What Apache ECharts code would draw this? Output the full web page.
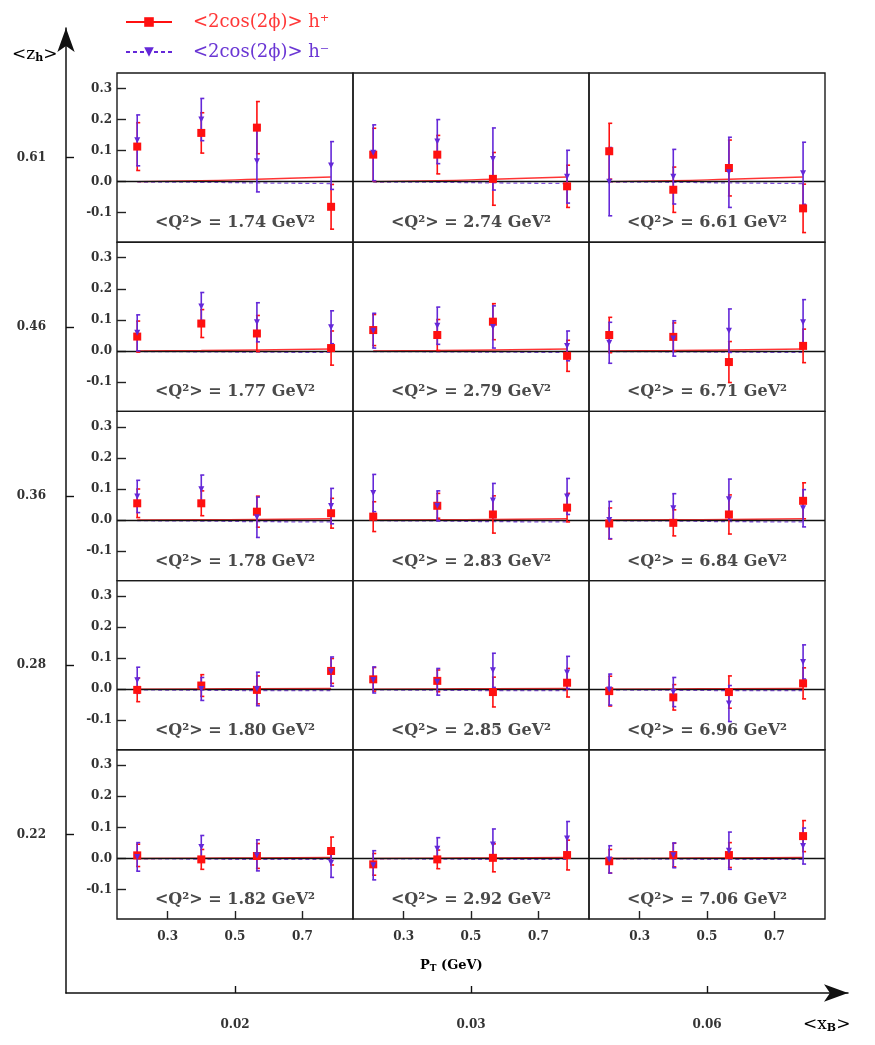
<!DOCTYPE html>
<html><head><meta charset="utf-8">
<script src="https://cdn.jsdelivr.net/npm/echarts@6/dist/echarts.min.js"></script>
<style>html,body{margin:0;padding:0;background:#fff}#c{width:875px;height:1045px}</style>
</head><body><div id="c"></div>
<script>
// ---------------- data ----------------
const ptX = [0.21, 0.40, 0.565, 0.785];          // P_T bin centres (GeV)
const ptTicks = [0.3, 0.5, 0.7];
const yTicks = [-0.1, 0.0, 0.1, 0.2, 0.3];
const zhLabels = ['0.61', '0.46', '0.36', '0.28', '0.22'];   // rows, top -> bottom
const xbLabels = ['0.02', '0.03', '0.06'];                     // columns
const q2Values = [
  ['1.74', '2.74', '6.61'],
  ['1.77', '2.79', '6.71'],
  ['1.78', '2.83', '6.84'],
  ['1.80', '2.85', '6.96'],
  ['1.82', '2.92', '7.06']
];
// panels in row-major order (r1c1, r1c2, r1c3, r2c1, ...)
const hPlusVal = [
  [0.113, 0.157, 0.174, -0.081], [0.087, 0.087, 0.009, -0.015], [0.098, -0.026, 0.044, -0.086],
  [0.046, 0.088, 0.056, 0.009], [0.067, 0.051, 0.094, -0.016], [0.051, 0.045, -0.036, 0.016],
  [0.054, 0.054, 0.027, 0.022], [0.011, 0.046, 0.018, 0.040], [-0.011, -0.009, 0.018, 0.062],
  [-0.002, 0.012, -0.002, 0.059], [0.032, 0.027, -0.009, 0.021], [-0.006, -0.026, -0.009, 0.019],
  [0.010, -0.003, 0.008, 0.024], [-0.019, -0.003, 0.002, 0.011], [-0.009, 0.011, 0.011, 0.072]
];
const hPlusErr = [
  [0.077, 0.065, 0.084, 0.072], [0.085, 0.062, 0.085, 0.068], [0.090, 0.073, 0.090, 0.078],
  [0.050, 0.045, 0.058, 0.055], [0.050, 0.050, 0.058, 0.050], [0.057, 0.045, 0.066, 0.054],
  [0.046, 0.040, 0.050, 0.048], [0.048, 0.040, 0.060, 0.046], [0.050, 0.042, 0.063, 0.058],
  [0.038, 0.035, 0.045, 0.040], [0.038, 0.035, 0.048, 0.046], [0.048, 0.041, 0.052, 0.050],
  [0.036, 0.032, 0.040, 0.045], [0.035, 0.030, 0.045, 0.048], [0.038, 0.038, 0.040, 0.050]
];
const hMinusVal = [
  [0.133, 0.200, 0.066, 0.052], [0.093, 0.129, 0.073, 0.016], [0.000, 0.016, 0.030, 0.027],
  [0.058, 0.143, 0.092, 0.076], [0.065, 0.081, 0.077, 0.016], [0.026, 0.040, 0.065, 0.092],
  [0.076, 0.099, 0.009, 0.045], [0.087, 0.046, 0.063, 0.076], [0.000, 0.038, 0.067, 0.038],
  [0.029, 0.001, 0.001, 0.057], [0.030, 0.024, 0.061, 0.054], [-0.001, -0.009, -0.046, 0.088],
  [0.005, 0.037, 0.010, -0.014], [-0.022, 0.031, 0.045, 0.064], [-0.003, 0.010, 0.025, 0.040]
];
const hMinusErr = [
  [0.082, 0.068, 0.099, 0.077], [0.090, 0.071, 0.100, 0.085], [0.110, 0.088, 0.113, 0.100],
  [0.058, 0.045, 0.063, 0.053], [0.056, 0.060, 0.068, 0.048], [0.066, 0.057, 0.070, 0.073],
  [0.052, 0.046, 0.065, 0.057], [0.060, 0.048, 0.055, 0.058], [0.060, 0.047, 0.065, 0.060],
  [0.042, 0.037, 0.054, 0.047], [0.042, 0.043, 0.055, 0.052], [0.050, 0.047, 0.058, 0.055],
  [0.046, 0.037, 0.050, 0.047], [0.047, 0.036, 0.050, 0.055], [0.044, 0.040, 0.060, 0.058]
];
// model curves, per row (top -> bottom)
const theoryPlus = [
  [0.000, 0.003, 0.008, 0.015], [0.000, 0.001, 0.003, 0.006], [0.000, 0.001, 0.002, 0.004],
  [0.000, 0.001, 0.002, 0.003], [0.000, 0.001, 0.002, 0.003]
];
const theoryMinus = [
  [-0.001, -0.002, -0.004, -0.006], [-0.002, -0.003, -0.004, -0.005], [-0.002, -0.003, -0.005, -0.006],
  [-0.002, -0.003, -0.004, -0.004], [-0.001, -0.002, -0.003, -0.003]
];

// ---------------- layout / style ----------------
const RED = '#ff1010', BLUE = '#6428d8';
const FONT = 'DejaVu Serif';
const colLeft = [117, 353, 589], panelW = 236;
const rowTop0 = 73, panelH = 169.2;
const outer = { left: 66, top: 28, right: 848, bottom: 993 };
const LEG_P = '<2cos(2\u03D5)> h\u207A';
const LEG_M = '<2cos(2\u03D5)> h\u207B';

const grids = [], xAxes = [], yAxes = [], series = [], graphics = [];

function errRender(color) {
  return function (params, api) {
    const x = api.value(0), y = api.value(1), e = api.value(2);
    const t = api.coord([x, y + e]), b = api.coord([x, y - e]);
    const st = { stroke: color, lineWidth: 1.6 };
    return { type: 'group', children: [
      { type: 'line', shape: { x1: t[0], y1: t[1], x2: b[0], y2: b[1] }, style: st },
      { type: 'line', shape: { x1: t[0] - 1, y1: t[1], x2: t[0] + 3, y2: t[1] }, style: st },
      { type: 'line', shape: { x1: b[0] - 1, y1: b[1], x2: b[0] + 3, y2: b[1] }, style: st }
    ] };
  };
}

for (let r = 0; r < 5; r++) {
  for (let c = 0; c < 3; c++) {
    const i = r * 3 + c;
    const top = rowTop0 + r * panelH;
    grids.push({ left: colLeft[c], top: top, width: panelW, height: panelH, show: true,
      borderColor: '#1a1a1a', borderWidth: 1.4, backgroundColor: 'transparent' });
    const bottomRow = r === 4;
    xAxes.push({ type: 'value', gridIndex: i, min: 0.15, max: 0.85, position: 'bottom',
      axisLine: { show: false, onZero: false }, splitLine: { show: false },
      axisTick: { show: bottomRow, inside: true, length: 8, customValues: ptTicks, lineStyle: { color: '#222', width: 1.4 } },
      axisLabel: { show: bottomRow, customValues: ptTicks, margin: 12, formatter: v => v.toFixed(1),
        fontFamily: FONT, fontWeight: 'bold', fontSize: 12, color: '#333' } });
    yAxes.push({ type: 'value', gridIndex: i, min: -0.195, max: 0.35, position: 'left',
      axisLine: { show: false, onZero: false }, splitLine: { show: false },
      axisTick: { show: c === 0, inside: true, length: 9, customValues: yTicks, lineStyle: { color: '#222', width: 1.4 } },
      axisLabel: { show: c === 0, customValues: yTicks, margin: 5, formatter: v => v.toFixed(1),
        fontFamily: FONT, fontWeight: 'bold', fontSize: 12, color: '#333' } });

    series.push({ type: 'line', xAxisIndex: i, yAxisIndex: i, silent: true, showSymbol: false, smooth: true,
      data: ptX.map((x, k) => [x, theoryMinus[r][k]]),
      lineStyle: { color: BLUE, width: 1.3, type: [4, 3], opacity: 0.8 }, z: 3,
      markLine: { silent: true, symbol: 'none', label: { show: false }, animation: false,
        lineStyle: { color: '#111', width: 1.4, type: 'solid' }, data: [{ yAxis: 0 }] } });
    series.push({ type: 'line', xAxisIndex: i, yAxisIndex: i, silent: true, showSymbol: false, smooth: true,
      data: ptX.map((x, k) => [x, theoryPlus[r][k]]),
      lineStyle: { color: RED, width: 1.4, opacity: 0.85 }, z: 4 });
    series.push({ type: 'custom', xAxisIndex: i, yAxisIndex: i, silent: true, z: 5,
      renderItem: errRender(RED), encode: { x: 0, y: 1 },
      data: ptX.map((x, k) => [x, hPlusVal[i][k], hPlusErr[i][k]]) });
    series.push({ type: 'custom', xAxisIndex: i, yAxisIndex: i, silent: true, z: 6,
      renderItem: errRender(BLUE), encode: { x: 0, y: 1 },
      data: ptX.map((x, k) => [x, hMinusVal[i][k], hMinusErr[i][k]]) });
    series.push({ type: 'scatter', xAxisIndex: i, yAxisIndex: i, silent: true, z: 7,
      symbol: 'rect', symbolSize: 8, itemStyle: { color: RED, opacity: 1 },
      data: ptX.map((x, k) => [x, hPlusVal[i][k]]) });
    series.push({ type: 'scatter', xAxisIndex: i, yAxisIndex: i, silent: true, z: 8,
      symbol: 'triangle', symbolRotate: 180, symbolSize: 6, itemStyle: { color: BLUE, opacity: 1 },
      data: ptX.map((x, k) => [x, hMinusVal[i][k]]) });

    graphics.push({ type: 'text', x: colLeft[c] + panelW / 2, y: top + 150, silent: true, z: 100,
      style: { text: '<Q\u00B2> = ' + q2Values[r][c] + ' GeV\u00B2', align: 'center', verticalAlign: 'middle',
        font: 'bold 16px "' + FONT + '"', fill: '#4a4a4a' } });
  }
}

// outer axes (z_h rows, x_B columns)
const oW = outer.right - outer.left, oH = outer.bottom - outer.top;
const xMin = -(colLeft[0] + panelW / 2 - outer.left) / panelW;
const yMin = -(outer.bottom - (rowTop0 + 4.5 * panelH)) / panelH;
grids.push({ left: outer.left, top: outer.top, width: oW, height: oH, show: false });
const gi = grids.length - 1;
xAxes.push({ type: 'value', gridIndex: gi, min: xMin, max: xMin + oW / panelW,
  axisLine: { show: true, onZero: false, symbol: ['none', 'arrow'], symbolSize: [13, 24], lineStyle: { color: '#111', width: 1.5 } },
  splitLine: { show: false },
  axisTick: { show: true, inside: true, length: 7, customValues: [0, 1, 2], lineStyle: { color: '#111', width: 1.4 } },
  axisLabel: { customValues: [0, 1, 2], margin: 26, formatter: v => xbLabels[Math.round(v)],
    fontFamily: FONT, fontWeight: 'bold', fontSize: 12, color: '#333' } });
yAxes.push({ type: 'value', gridIndex: gi, min: yMin, max: yMin + oH / panelH,
  axisLine: { show: true, onZero: false, symbol: ['none', 'arrow'], symbolSize: [13, 24], lineStyle: { color: '#111', width: 1.5 } },
  splitLine: { show: false },
  axisTick: { show: true, inside: true, length: 8, customValues: [0, 1, 2, 3, 4], lineStyle: { color: '#111', width: 1.4 } },
  axisLabel: { customValues: [0, 1, 2, 3, 4], margin: 20, formatter: v => zhLabels[4 - Math.round(v)],
    fontFamily: FONT, fontWeight: 'bold', fontSize: 12, color: '#333' } });
series.push({ type: 'scatter', xAxisIndex: gi, yAxisIndex: gi, data: [], silent: true });

// legend proxies
series.push({ name: LEG_P, type: 'line', xAxisIndex: 0, yAxisIndex: 0, data: [], symbol: 'rect', symbolSize: 9,
  itemStyle: { color: RED }, lineStyle: { color: RED, width: 1.6 } });
series.push({ name: LEG_M, type: 'line', xAxisIndex: 0, yAxisIndex: 0, data: [], symbol: 'triangle', symbolRotate: 180, symbolSize: 7,
  itemStyle: { color: BLUE }, lineStyle: { color: BLUE, width: 1.6, type: [4, 3] } });

const rich = { t: { fontFamily: FONT, fontSize: 17, color: '#555' },
  s: { fontFamily: FONT, fontSize: 11, fontWeight: 'bold', verticalAlign: 'bottom', padding: [8, 0, 0, 0], color: '#555' } };
graphics.push({ type: 'text', left: 12, top: 46, silent: true,
  style: { text: '{t|<z}{s|h}{t|>}', rich: rich } });
graphics.push({ type: 'text', left: 803, top: 1016, silent: true,
  style: { text: '{t|<x}{s|B}{t|>}', rich: rich } });
graphics.push({ type: 'text', left: 420, top: 959, silent: true,
  style: { text: '{a|P}{b|T}{a| (GeV)}', rich: {
    a: { fontFamily: FONT, fontSize: 13, fontWeight: 'bold', color: '#333' },
    b: { fontFamily: FONT, fontSize: 9, fontWeight: 'bold', color: '#333', verticalAlign: 'bottom', padding: [7, 0, 0, 0] } } } });

const chart = echarts.init(document.getElementById('c'), null, { renderer: 'canvas' });
chart.setOption({
  animation: false,
  backgroundColor: '#fff',
  legend: { orient: 'vertical', left: 120, top: 8, itemWidth: 46, itemHeight: 12, itemGap: 12,
    selectedMode: false,
    data: [
      { name: LEG_P, textStyle: { color: '#ff3838' } },
      { name: LEG_M, textStyle: { color: '#6a36d4' } }
    ],
    textStyle: { fontFamily: FONT, fontSize: 18, padding: [0, 0, 0, 16] } },
  grid: grids, xAxis: xAxes, yAxis: yAxes, series: series, graphic: graphics
});
</script></body></html>
